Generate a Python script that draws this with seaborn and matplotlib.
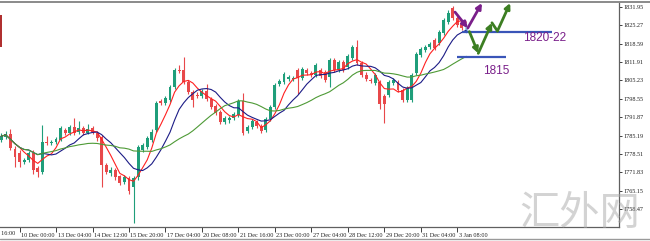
import numpy as np
import pandas as pd
import matplotlib
matplotlib.use('Agg')
import matplotlib.pyplot as plt
import matplotlib.transforms as mtransforms
from matplotlib.lines import Line2D
from matplotlib.patches import Rectangle
import seaborn as sns

# ---------------- data (H4 gold candles) ----------------
opens = [1783.6, 1784.7, 1785.8, 1780.3, 1778.8, 1775.6, 1776.3, 1778.8, 1773.4, 1771.9,
         1782.8, 1782.5, 1782.8, 1783.6, 1787.2, 1786.1, 1788.3, 1786.5, 1787.9, 1786.1,
         1787.9, 1786.1, 1784.7, 1774.5, 1771.6, 1772.7, 1770.5, 1768.3, 1769.7, 1766.5,
         1770.1, 1779.9, 1781.0, 1783.6, 1787.2, 1797.8, 1797.0, 1798.1, 1802.9, 1809.0,
         1809.0, 1804.7, 1801.0, 1799.9, 1799.6, 1801.4, 1798.5, 1795.9, 1793.8, 1790.1,
         1790.8, 1791.6, 1792.7, 1797.8, 1786.8, 1788.3, 1790.1, 1788.7, 1787.2, 1791.2,
         1795.6, 1803.9, 1804.7, 1805.8, 1805.8, 1809.0, 1806.1, 1809.0, 1807.9, 1807.2,
         1809.0, 1808.3, 1806.5, 1812.7, 1809.0, 1811.9, 1810.1, 1813.4, 1817.4, 1811.6,
         1807.2, 1805.4, 1804.3, 1804.7, 1799.6, 1799.9, 1804.3, 1804.7, 1801.8, 1798.1,
         1798.1, 1807.9, 1814.5, 1816.3, 1817.4, 1820.0, 1818.9, 1822.5, 1826.5, 1831.6,
         1828.0, 1826.1, 1823.2]
highs = [1786.1, 1786.8, 1787.6, 1781.4, 1779.9, 1777.0, 1779.6, 1779.9, 1774.1, 1789.0,
         1785.0, 1783.6, 1784.7, 1788.7, 1787.9, 1789.0, 1791.6, 1790.5, 1788.7, 1789.4,
         1788.7, 1786.8, 1785.4, 1775.2, 1773.7, 1773.4, 1770.8, 1770.8, 1770.5, 1770.5,
         1781.7, 1782.5, 1785.0, 1787.6, 1797.8, 1798.5, 1799.6, 1803.6, 1809.8, 1810.9,
         1813.8, 1805.4, 1801.8, 1801.0, 1802.1, 1803.9, 1799.2, 1796.7, 1794.5, 1792.3,
         1792.3, 1793.8, 1798.5, 1800.7, 1789.0, 1791.2, 1790.8, 1789.4, 1791.9, 1796.3,
         1804.3, 1805.8, 1808.3, 1807.2, 1806.9, 1809.8, 1810.1, 1809.8, 1808.7, 1811.6,
         1809.8, 1809.0, 1813.4, 1813.4, 1812.7, 1812.7, 1814.9, 1818.1, 1820.0, 1812.3,
         1808.3, 1806.1, 1807.9, 1805.4, 1800.3, 1805.4, 1806.1, 1805.4, 1802.5, 1803.2,
         1807.9, 1815.6, 1817.4, 1818.1, 1819.2, 1820.7, 1823.6, 1828.0, 1830.9, 1832.3,
         1828.7, 1826.9, 1825.4]
lows = [1782.8, 1783.9, 1779.9, 1773.7, 1773.7, 1774.8, 1775.6, 1771.2, 1770.1, 1771.2,
        1781.7, 1781.7, 1782.1, 1783.2, 1785.4, 1785.4, 1785.4, 1785.8, 1785.4, 1785.8,
        1785.8, 1783.2, 1766.5, 1771.2, 1770.5, 1769.0, 1767.2, 1767.6, 1763.9, 1753.4,
        1769.0, 1779.2, 1780.3, 1782.8, 1786.5, 1796.3, 1796.3, 1797.4, 1802.1, 1807.9,
        1803.9, 1800.3, 1795.6, 1798.9, 1798.9, 1797.8, 1794.8, 1792.7, 1789.4, 1789.4,
        1789.7, 1790.8, 1791.9, 1785.4, 1786.1, 1787.6, 1787.9, 1786.1, 1786.5, 1790.5,
        1794.8, 1803.2, 1803.9, 1805.0, 1805.0, 1800.3, 1805.4, 1807.2, 1806.5, 1806.5,
        1806.1, 1804.7, 1802.9, 1808.3, 1808.3, 1808.3, 1809.4, 1812.7, 1810.9, 1806.5,
        1805.0, 1804.3, 1803.6, 1794.8, 1789.7, 1799.2, 1803.6, 1801.0, 1797.4, 1797.4,
        1797.4, 1807.2, 1813.8, 1815.6, 1816.7, 1816.3, 1818.1, 1821.8, 1825.8, 1827.2,
        1824.7, 1823.6, 1822.5]
closes = [1785.0, 1785.8, 1780.7, 1777.4, 1775.6, 1776.3, 1778.8, 1772.7, 1771.9, 1782.8,
          1782.5, 1782.8, 1783.9, 1787.9, 1786.1, 1788.3, 1786.1, 1787.9, 1786.1, 1787.6,
          1786.5, 1784.3, 1774.5, 1771.9, 1772.7, 1770.1, 1767.9, 1770.1, 1765.0, 1769.7,
          1781.0, 1781.7, 1784.3, 1786.5, 1797.0, 1797.0, 1798.9, 1802.9, 1809.0, 1808.7,
          1804.7, 1801.0, 1798.1, 1799.6, 1801.4, 1798.5, 1795.6, 1793.4, 1790.1, 1791.6,
          1791.6, 1793.0, 1797.8, 1786.1, 1788.3, 1790.5, 1788.7, 1786.8, 1791.2, 1795.6,
          1803.6, 1805.0, 1807.6, 1806.5, 1806.1, 1806.1, 1809.4, 1807.9, 1807.2, 1810.9,
          1806.9, 1805.4, 1812.7, 1809.0, 1811.9, 1809.0, 1814.1, 1817.4, 1811.6, 1807.2,
          1805.8, 1805.0, 1807.2, 1796.7, 1796.7, 1804.7, 1805.4, 1801.8, 1798.1, 1802.5,
          1807.2, 1814.9, 1816.7, 1817.4, 1818.5, 1817.0, 1822.9, 1827.2, 1829.8, 1828.0,
          1825.4, 1824.3, 1824.7]

# first label lies left of the visible area (only its tail shows)
edge_tick_idx = -4
edge_tick_label = '8 Dec 16:00'
tick_idx = [4, 12, 20, 28, 36, 44, 52, 60, 68, 76, 84, 92, 100]
tick_labels = ['10 Dec 00:00', '13 Dec 04:00', '14 Dec 12:00', '15 Dec 20:00',
               '17 Dec 04:00', '20 Dec 08:00', '21 Dec 16:00', '23 Dec 00:00', '27 Dec 04:00',
               '28 Dec 12:00', '29 Dec 20:00', '31 Dec 04:00', '3 Jan 08:00']
y_ticks = [1831.95, 1825.27, 1818.59, 1811.91, 1805.23, 1798.55, 1791.87,
           1785.19, 1778.51, 1771.83, 1765.15, 1758.47]

ma_periods = [5, 10, 20]

level_hi = 1822.9
level_lo = 1813.8
level_hi_span = (101.0, 120.8)
level_lo_span = (99.9, 110.7)
label_hi = '1820-22'
label_lo = '1815'
label_hi_pos = (119.2, 1820.7)
label_lo_pos = (108.6, 1808.5)
purple_path = [(99.5, 1830.1), (102.3, 1824.3), (105.4, 1833.4)]
green_path = [(102.65, 1823.0), (104.6, 1815.1), (107.6, 1826.2), (108.8, 1823.2), (111.6, 1833.4)]

# ---------------- figure ----------------
sns.set_theme(style='white')
plt.rcParams['font.family'] = ['Liberation Serif', 'DejaVu Sans']

W, H = 650, 241
fig = plt.figure(figsize=(W / 100, H / 100), dpi=100)
fig.patch.set_facecolor('white')
ax = fig.add_axes([0, 14 / H, 619 / W, 225 / H])
ax.set_facecolor('white')

df = pd.DataFrame({'open': opens, 'high': highs, 'low': lows, 'close': closes})
df['idx'] = np.arange(len(df))

UP = '#1f9e7a'
DOWN = '#e8484a'
LAST = '#9fd3e6'
colors = [UP if c > o else DOWN for o, c in zip(df['open'], df['close'])]
colors[-1] = LAST

ax.vlines(df['idx'], df['low'], df['high'], colors=colors, linewidth=0.8, zorder=2)
body_lo = np.minimum(df['open'], df['close'])
body_h = np.maximum(np.abs(df['close'] - df['open']), 0.35)
ax.bar(df['idx'], body_h, bottom=body_lo, width=0.64, color=colors, linewidth=0, zorder=3)

ma_colors = ['#ff2020', '#1c1c86', '#4e9a36']
for p, col in zip(ma_periods, ma_colors):
    df[f'ma{p}'] = df['close'].rolling(p, min_periods=1).mean()
    sns.lineplot(data=df, x='idx', y=f'ma{p}', ax=ax, color=col, linewidth=0.8,
                 legend=False, zorder=4)

# levels
ax.hlines(level_hi, *level_hi_span, color='#3a55b8', linewidth=1.6, zorder=5)
ax.hlines(level_lo, *level_lo_span, color='#3a55b8', linewidth=1.6, zorder=5)
ax.text(*label_hi_pos, label_hi, color='#7a1f8a', fontsize=8.5, ha='center', va='center',
        family=['Liberation Sans', 'DejaVu Sans'], zorder=6)
ax.text(*label_lo_pos, label_lo, color='#7a1f8a', fontsize=8.5, ha='center', va='center',
        family=['Liberation Sans', 'DejaVu Sans'], zorder=6)

def draw_path(path, color, heads):
    for (a, b, h) in zip(path[:-1], path[1:], heads):
        if h:
            ax.annotate('', xy=b, xytext=a, zorder=7,
                        arrowprops=dict(arrowstyle='-|>', color=color, lw=2.0,
                                        mutation_scale=8, shrinkA=0, shrinkB=0))
        else:
            ax.plot([a[0], b[0]], [a[1], b[1]], color=color, lw=2.0, zorder=7,
                    solid_capstyle='round')

draw_path(purple_path, '#7a1f8a', [True, True])
draw_path(green_path, '#3c7e22', [True, True, False, True])

# axes
ax.set_xlim(-0.285, 135.46)
ax.set_ylim(1751.92, 1833.77)
ax.set_xlabel('')
ax.set_ylabel('')
ax.yaxis.tick_right()
ax.set_yticks(y_ticks)
ax.set_yticklabels([f'{v:.2f}' for v in y_ticks])
ax.set_xticks(tick_idx)
ax.set_xticklabels(tick_labels)
ax.tick_params(axis='y', direction='out', length=2.5, width=0.6, pad=0.8,
               labelsize=4.4, colors='#202020', right=True, left=False)
ax.tick_params(axis='x', direction='out', length=3.5, width=0.6, pad=0.8,
               labelsize=4.4, colors='#202020', bottom=True)
off = mtransforms.ScaledTranslation(1.5 / 100, 0, fig.dpi_scale_trans)
for lab in ax.get_xticklabels():
    lab.set_horizontalalignment('left')
    lab.set_transform(lab.get_transform() + off)
# partially visible first label at the left edge
edge_tr = mtransforms.blended_transform_factory(ax.transData, ax.transAxes) + off
ax.text(edge_tick_idx, -4.3 / 225, edge_tick_label, transform=edge_tr, ha='left', va='top',
        fontsize=4.4, color='#202020', clip_on=False)
for s in ['top', 'left']:
    ax.spines[s].set_visible(False)
for s in ['right', 'bottom']:
    ax.spines[s].set_color('#606060')
    ax.spines[s].set_linewidth(0.9)
ax.grid(False)

# window frame details
fig.add_artist(Line2D([0, 1], [1 - 1.5 / H] * 2, transform=fig.transFigure,
                      color='#8a8a8a', lw=1.4))
fig.add_artist(Line2D([0, 1], [2.0 / H] * 2, transform=fig.transFigure,
                      color='#9a9a9a', lw=1.0))
fig.add_artist(Rectangle((0, (H - 47) / H), 1.6 / W, 32 / H, transform=fig.transFigure,
                         color='#b03030', lw=0))

# watermark
fig.text(580 / W, 28 / H, '汇外网', fontsize=29, color='#a8a8a8', alpha=0.5,
         ha='center', va='center', family=['Noto Sans CJK SC', 'DejaVu Sans'],
         weight='light', zorder=10)

fig.savefig('out.png', dpi=100, facecolor='white')
